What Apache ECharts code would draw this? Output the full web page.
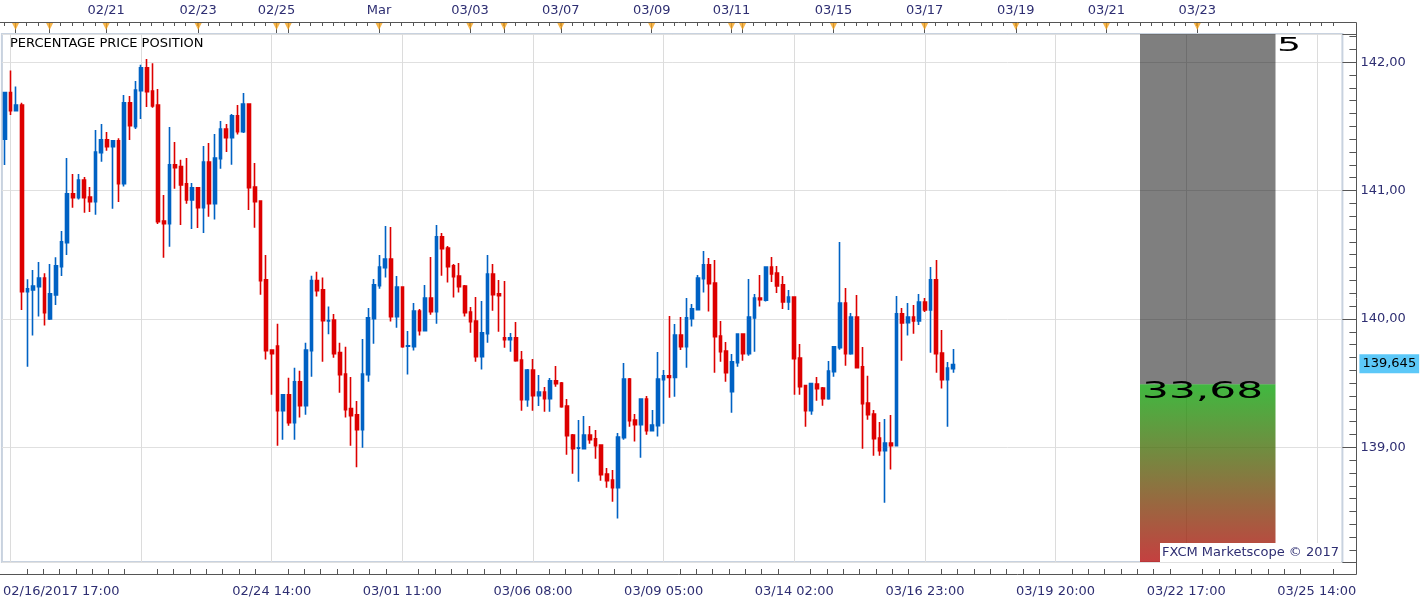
<!DOCTYPE html>
<html>
<head>
<meta charset="utf-8">
<script src="https://cdn.jsdelivr.net/npm/echarts@6/dist/echarts.min.js"></script>
<style>
  html, body { margin: 0; padding: 0; background: #fff; }
  #chart { width: 1423px; height: 604px; }
</style>
</head>
<body>
<div id="chart"></div>
<script>
// 3-hour candles, oldest first
const opens = [
  141.400, 141.763, 141.623, 141.667, 140.213, 140.226, 140.252, 140.319, 139.999, 140.187,
  140.407, 140.594, 140.974, 140.945, 141.083, 140.950, 140.914, 141.296, 141.395, 141.342,
  141.387, 141.054, 141.683, 141.498, 141.779, 141.956, 141.776, 141.667, 140.763, 140.742,
  141.200, 141.187, 141.052, 140.927, 141.021, 140.867, 141.223, 140.898, 141.249, 141.480,
  141.412, 141.582, 141.459, 141.675, 141.028, 140.919, 140.304, 139.758, 139.789, 139.285,
  139.408, 139.192, 139.511, 139.324, 139.753, 140.298, 140.226, 139.984, 139.992, 139.737,
  139.571, 139.301, 139.252, 139.137, 139.566, 140.002, 140.259, 140.400, 140.467, 140.018,
  140.249, 139.787, 139.784, 140.062, 139.909, 140.163, 140.057, 140.639, 140.553, 140.413,
  140.335, 140.257, 140.054, 139.984, 139.706, 139.885, 140.350, 140.195, 139.852, 139.838,
  139.852, 139.680, 139.371, 139.602, 139.402, 139.431, 139.379, 139.517, 139.501, 139.322,
  139.096, 138.992, 138.989, 139.096, 139.065, 139.018, 138.792, 138.745, 138.685, 139.075,
  139.532, 139.213, 139.176, 139.376, 139.129, 139.168, 139.527, 139.556, 139.543, 139.875,
  139.784, 140.002, 140.072, 140.314, 140.421, 140.280, 139.867, 139.750, 139.433, 139.659,
  139.883, 139.729, 140.008, 140.163, 140.145, 140.405, 140.358, 140.265, 140.132, 140.171,
  139.696, 139.480, 139.285, 139.493, 139.462, 139.379, 139.589, 139.776, 140.124, 139.729,
  140.015, 139.626, 139.345, 139.259, 139.072, 138.973, 139.033, 139.012, 140.039, 139.971,
  140.015, 139.984, 140.132, 140.070, 140.304, 139.735, 139.527, 139.612
];
const closes = [
  141.763, 141.623, 141.667, 140.213, 140.234, 140.257, 140.319, 140.049, 140.195, 140.413,
  140.600, 140.974, 140.945, 141.083, 140.945, 140.914, 141.301, 141.395, 141.342, 141.387,
  141.054, 141.683, 141.506, 141.784, 141.956, 141.771, 141.659, 140.758, 140.742, 141.200,
  141.179, 141.044, 140.927, 141.021, 140.867, 141.223, 140.898, 141.254, 141.480, 141.412,
  141.582, 141.459, 141.675, 141.023, 140.914, 140.298, 139.753, 139.729, 139.285, 139.408,
  139.192, 139.511, 139.324, 139.758, 140.298, 140.220, 139.986, 139.988, 139.729, 139.566,
  139.293, 139.246, 139.137, 139.571, 140.008, 140.265, 140.405, 140.467, 140.018, 140.249,
  139.784, 139.791, 140.062, 139.909, 140.163, 140.057, 140.639, 140.548, 140.407, 140.329,
  140.252, 140.049, 139.979, 139.706, 139.891, 140.350, 140.189, 140.181, 139.838, 139.852,
  139.675, 139.371, 139.602, 139.402, 139.431, 139.379, 139.517, 139.496, 139.316, 139.090,
  138.989, 138.996, 139.096, 139.059, 139.012, 138.786, 138.740, 138.685, 139.080, 139.532,
  139.207, 139.176, 139.376, 139.129, 139.174, 139.532, 139.556, 139.543, 139.875, 139.784,
  140.008, 140.078, 140.319, 140.421, 140.275, 139.862, 139.745, 139.581, 139.665, 139.883,
  139.729, 140.015, 140.163, 140.150, 140.405, 140.350, 140.257, 140.132, 140.171, 139.690,
  139.472, 139.285, 139.496, 139.457, 139.379, 139.594, 139.782, 140.124, 139.729, 140.015,
  139.620, 139.340, 139.254, 139.067, 138.973, 139.033, 139.012, 140.039, 139.969, 140.015,
  139.984, 140.132, 140.070, 140.304, 139.729, 139.527, 139.618, 139.645
];
const lows = [
  141.200, 141.589, 141.620, 140.070, 139.628, 139.870, 140.018, 139.948, 139.992, 140.109,
  140.335, 140.498, 140.867, 140.930, 140.828, 140.834, 140.812, 141.225, 141.311, 140.859,
  140.911, 141.031, 141.395, 141.480, 141.558, 141.652, 141.646, 140.740, 140.477, 140.563,
  141.015, 140.732, 140.898, 140.701, 140.709, 140.670, 140.797, 140.774, 141.171, 141.301,
  141.202, 141.436, 141.449, 140.849, 140.711, 140.189, 139.683, 139.410, 139.012, 139.059,
  139.168, 139.059, 139.231, 139.254, 139.550, 140.174, 139.667, 139.880, 139.698, 139.425,
  139.231, 139.012, 138.844, 138.997, 139.511, 139.807, 140.236, 140.322, 139.979, 139.932,
  139.776, 139.566, 139.753, 139.870, 139.905, 140.033, 139.963, 140.337, 140.283, 140.166,
  140.205, 140.018, 139.893, 139.667, 139.605, 139.815, 140.064, 139.901, 139.776, 139.745,
  139.667, 139.285, 139.316, 139.285, 139.322, 139.277, 139.277, 139.472, 139.308, 138.942,
  138.794, 138.732, 138.985, 139.028, 138.911, 138.740, 138.685, 138.576, 138.444, 139.059,
  139.160, 139.044, 138.919, 139.098, 139.122, 139.083, 139.184, 139.386, 139.394, 139.758,
  139.620, 139.940, 140.068, 140.205, 140.057, 139.581, 139.667, 139.511, 139.269, 139.628,
  139.675, 139.714, 139.745, 140.096, 140.135, 140.288, 140.202, 140.078, 140.070, 139.410,
  139.410, 139.160, 139.254, 139.363, 139.324, 139.371, 139.550, 139.760, 139.636, 139.721,
  139.616, 138.989, 139.215, 138.934, 138.934, 138.568, 138.826, 139.008, 139.675, 139.870,
  139.885, 139.953, 140.054, 139.737, 139.581, 139.457, 139.160, 139.581
];
const highs = [
  141.768, 141.935, 141.810, 141.685, 140.310, 140.382, 140.444, 140.356, 140.428, 140.480,
  140.685, 141.254, 141.130, 141.130, 141.106, 141.028, 141.472, 141.519, 141.457, 141.395,
  141.408, 141.745, 141.737, 141.854, 141.981, 142.026, 141.992, 141.792, 140.966, 141.496,
  141.379, 141.241, 141.254, 141.059, 141.021, 141.348, 141.371, 141.441, 141.543, 141.519,
  141.597, 141.667, 141.761, 141.675, 141.215, 140.919, 140.498, 139.758, 139.963, 139.408,
  139.542, 139.620, 139.597, 139.815, 140.337, 140.368, 140.322, 140.096, 140.039, 139.815,
  139.784, 139.548, 139.361, 139.844, 140.085, 140.311, 140.498, 140.724, 140.717, 140.335,
  140.249, 139.906, 140.125, 140.078, 140.265, 140.483, 140.732, 140.670, 140.569, 140.428,
  140.436, 140.265, 140.093, 140.171, 140.140, 140.498, 140.428, 140.304, 140.296, 139.891,
  139.976, 139.750, 139.610, 139.688, 139.563, 139.470, 139.540, 139.633, 139.509, 139.376,
  139.104, 139.213, 139.244, 139.166, 139.135, 139.018, 138.839, 138.823, 139.111, 139.657,
  139.540, 139.259, 139.380, 139.400, 139.291, 139.743, 139.602, 140.023, 139.961, 140.015,
  140.163, 140.117, 140.343, 140.530, 140.475, 140.460, 139.984, 139.821, 139.727, 139.887,
  139.887, 140.311, 140.195, 140.343, 140.409, 140.483, 140.413, 140.335, 140.226, 140.175,
  139.805, 139.484, 139.503, 139.548, 139.470, 139.672, 139.789, 140.600, 140.241, 140.046,
  140.187, 139.782, 139.558, 139.291, 139.197, 139.220, 139.252, 140.179, 140.085, 140.124,
  140.109, 140.195, 140.163, 140.405, 140.460, 139.914, 139.665, 139.766
];

// time axis: 236 slots, the last ones are empty future bars
const categoryCount = 236;
const liveCount = 168;
const gridLineIdx = [1, 24, 47, 70, 93, 116, 139, 162, 185, 208, 231];
const bottomLabelIdx = [0, 47, 70, 93, 116, 139, 162, 185, 208, 231];
const bottomLabels = ['02/16/2017 17:00', '02/24 14:00', '03/01 11:00', '03/06 08:00', '03/09 05:00',
  '03/14 02:00', '03/16 23:00', '03/19 20:00', '03/22 17:00', '03/25 14:00'];
// top calendar strip, positions in bar units
const topLabelPos = [17.85, 34.05, 47.85, 65.9, 81.9, 97.9, 113.9, 127.95, 145.9, 161.95, 178.0, 193.95, 209.95];
const topLabels = ['02/21', '02/23', '02/25', 'Mar', '03/03', '03/07', '03/09', '03/11', '03/15', '03/17', '03/19', '03/21', '03/23'];
const eventPos = [1.9, 7.9, 17.85, 34.05, 47.85, 49.9, 65.9, 81.9, 87.9, 97.9, 113.9, 127.95, 129.9, 145.9, 161.95, 178.0, 193.95, 209.95];

const yMin = 138.106;
const yMax = 142.22;
const lastPrice = 139.645;
const pppValue = 33.68;
const pppPeriod = 5;

const UP = '#0062c4';
const DOWN = '#dd0000';
const LABEL = '#2e2e72';
const FONT = 'DejaVu Sans';

// category names: 3h steps, market closed Fri 23:00 - Sun 23:00
const categories = [];
(function () {
  const H3 = 3 * 3600 * 1000;
  const pad = n => (n < 10 ? '0' : '') + n;
  let t = Date.UTC(2017, 1, 16, 17);
  for (let i = 0; i < categoryCount; i++) {
    if (i < liveCount) {
      for (;;) {
        const d = new Date(t);
        const day = d.getUTCDay(), h = d.getUTCHours();
        const closed = (day === 5 && h >= 23) || day === 6 || (day === 0 && h < 23);
        if (!closed) break;
        t += H3;
      }
    }
    const d = new Date(t);
    categories.push(pad(d.getUTCMonth() + 1) + '/' + pad(d.getUTCDate()) + ' ' + pad(d.getUTCHours()) + ':00');
    t += H3;
  }
})();

const candleData = opens.map((o, i) => [o, closes[i], lows[i], highs[i]]);

const bottomMinorPos = [];
for (let k = 0; 1 + k * 23 / 8 <= categoryCount - 0.5; k++) {
  if (k % 8 !== 0) bottomMinorPos.push(1 + k * 23 / 8);
}
const topMinorPos = [];
for (let p = topLabelPos[0] - 18; p <= categoryCount - 0.5; p += 2) {
  if (p >= -0.5) topMinorPos.push(+p.toFixed(2));
}

const comma = (v, d) => v.toFixed(d).replace('.', ',');
const noLine = { show: false, onZero: false };

const chart = echarts.init(document.getElementById('chart'));
chart.setOption({
  animation: false,
  title: {
    text: 'PERCENTAGE PRICE POSITION',
    left: 10, top: 37, padding: 0,
    textStyle: { fontFamily: FONT, fontSize: 13, fontWeight: 'normal', color: '#000' }
  },
  grid: [
    { left: -1.15, right: 80.6, top: 34, bottom: 42, show: true, borderColor: '#c8d2df', borderWidth: 2 },
    { left: 1140, width: 135.5, top: 34, bottom: 42 }
  ],
  xAxis: [
    {
      type: 'category', gridIndex: 0, data: categories, position: 'bottom', offset: 13,
      axisLine: noLine,
      axisTick: {
        inside: true, length: 13, alignWithLabel: true,
        interval: i => gridLineIdx.includes(i),
        lineStyle: { color: '#555' }
      },
      axisLabel: {
        interval: i => bottomLabelIdx.includes(i),
        formatter: (v, i) => {
          const k = bottomLabelIdx.indexOf(i);
          return k === 0 ? '{first|' + bottomLabels[0] + '}' : bottomLabels[k];
        },
        rich: { first: { padding: [0, 0, 0, 113], color: LABEL, fontFamily: FONT, fontSize: 13 } },
        color: LABEL, fontFamily: FONT, fontSize: 13, margin: 10
      },
      splitLine: { show: false }
    },
    {
      type: 'value', gridIndex: 0, position: 'bottom', offset: 13, min: -0.5, max: categoryCount - 0.5,
      axisLine: noLine, axisLabel: { show: false }, splitLine: { show: false },
      axisTick: { inside: true, length: 6, customValues: bottomMinorPos, lineStyle: { color: '#555' } }
    },
    {
      type: 'value', gridIndex: 0, position: 'top', offset: 12, min: -0.5, max: categoryCount - 0.5,
      axisLine: noLine, splitLine: { show: false },
      axisTick: { inside: true, length: 4, customValues: topMinorPos, lineStyle: { color: '#555' } },
      axisLabel: {
        customValues: topLabelPos,
        formatter: v => topLabels[topLabelPos.findIndex(p => Math.abs(p - v) < 1e-6)] || '',
        color: LABEL, fontFamily: FONT, fontSize: 13, margin: 5
      }
    },
    {
      type: 'value', gridIndex: 0, position: 'top', offset: 12, min: -0.5, max: categoryCount - 0.5,
      axisLine: noLine, splitLine: { show: false }, axisLabel: { show: false },
      axisTick: { inside: true, length: 11, customValues: eventPos, lineStyle: { color: '#555' } }
    },
    { type: 'category', gridIndex: 1, data: ['PPP'], show: false }
  ],
  yAxis: [
    {
      type: 'value', gridIndex: 0, position: 'right', offset: 14, min: yMin, max: yMax, splitNumber: 4,
      axisLine: noLine,
      axisTick: { inside: true, length: 14, lineStyle: { color: '#555' } },
      minorTick: { show: true, splitNumber: 10, length: 7, lineStyle: { color: '#555' } },
      axisLabel: {
        formatter: v => comma(v, 2), showMinLabel: false, showMaxLabel: false,
        color: LABEL, fontFamily: FONT, fontSize: 13, margin: 4
      },
      splitLine: { show: true, lineStyle: { color: '#e0e0e0' } }
    },
    { type: 'value', gridIndex: 1, min: 0, max: 100, show: false }
  ],
  series: [
    {
      type: 'candlestick', xAxisIndex: 0, yAxisIndex: 0, data: candleData,
      barWidth: 3.2, z: 2,
      itemStyle: { color: UP, color0: DOWN, borderColor: UP, borderColor0: DOWN, borderWidth: 1.6 },
      markLine: {
        silent: true, z: 1, symbol: ['none', 'none'], label: { show: false },
        lineStyle: { color: '#dcdcdc', width: 1, type: 'solid' },
        emphasis: { disabled: true },
        data: gridLineIdx.map(i => ({ xAxis: i }))
      }
    },
    {
      type: 'scatter', xAxisIndex: 2, yAxisIndex: 0, clip: false, silent: true, z: 3,
      symbol: 'triangle', symbolRotate: 180, symbolSize: [8, 8], symbolOffset: [0, -8],
      itemStyle: { color: '#f5a21d' },
      data: eventPos.map(p => [p, yMax]),
      markLine: {
        silent: true, symbol: ['none', 'none'],
        lineStyle: { color: 'rgba(0,0,0,0)', width: 1 },
        label: {
          show: true, position: 'end', distance: 17, formatter: () => comma(lastPrice, 3),
          backgroundColor: '#5cc8f8', color: '#000', padding: [3, 3, 3, 3], opacity: 1,
          fontFamily: FONT, fontSize: 13
        },
        data: [{ yAxis: lastPrice }]
      }
    },
    {
      type: 'bar', xAxisIndex: 4, yAxisIndex: 1, silent: true, barWidth: '100%', stack: 'ppp',
      itemStyle: {
        color: {
          type: 'linear', x: 0, y: 0, x2: 0, y2: 1,
          colorStops: [
            { offset: 0, color: 'rgba(10,165,10,0.78)' },
            { offset: 1, color: 'rgba(180,10,10,0.78)' }
          ]
        }
      },
      data: [pppValue]
    },
    {
      type: 'bar', xAxisIndex: 4, yAxisIndex: 1, silent: true, barWidth: '100%', stack: 'ppp',
      itemStyle: { color: 'rgba(0,0,0,0.5)' },
      data: [100 - pppValue]
    }
  ],
  graphic: [
    {
      type: 'polyline', z: 50, silent: true,
      shape: { points: [[0, 22.5], [1356.5, 22.5], [1356.5, 574.5], [0, 574.5]] },
      style: { stroke: '#555', fill: null, lineWidth: 1 }
    },
    {
      type: 'text', z: 60, x: 1277, y: 36, scaleX: 1.9, silent: true,
      style: { text: String(pppPeriod), font: '20px "DejaVu Sans"', fill: '#000' }
    },
    {
      type: 'text', z: 60, x: 1142, y: 381, scaleX: 1.84, silent: true,
      style: { text: comma(pppValue, 2), font: '23px "DejaVu Sans"', fill: '#000' }
    },
    {
      type: 'text', z: 60, x: 1160, y: 543, silent: true,
      style: {
        text: 'FXCM Marketscope \u00a9 2017', font: '13px "DejaVu Sans"', fill: LABEL,
        backgroundColor: '#fff', padding: [3, 2, 3, 2]
      }
    }
  ]
});
</script>
</body>
</html>
